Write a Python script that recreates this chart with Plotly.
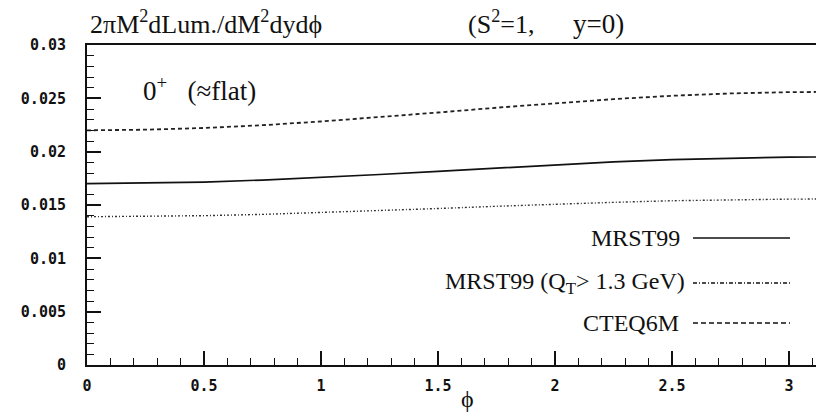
import plotly.graph_objects as go

phi = [0.0, 0.25, 0.5, 0.75, 1.0, 1.25, 1.5, 1.75, 2.0, 2.25, 2.5, 2.75, 3.0, 3.1416]
mrst99 = [0.0170, 0.01704, 0.01715, 0.01734, 0.01758, 0.01786, 0.01816, 0.01847,
          0.01877, 0.01904, 0.01925, 0.01940, 0.01949, 0.01950]
mrst99_qt = [0.0139, 0.01393, 0.01400, 0.01412, 0.01428, 0.01447, 0.01467, 0.01488,
             0.01508, 0.01525, 0.01540, 0.01550, 0.01555, 0.01556]
cteq6m = [0.0220, 0.02206, 0.02222, 0.02248, 0.02283, 0.02323, 0.02367, 0.02412,
          0.02455, 0.02493, 0.02524, 0.02546, 0.02558, 0.02560]
legend_labels = ["MRST99", "MRST99 (Q<sub>T</sub>> 1.3 GeV)", "CTEQ6M"]
x_ticks = [0, 0.5, 1, 1.5, 2, 2.5, 3]
x_ticktext = ["0", "0.5", "1", "1.5", "2", "2.5", "3"]
y_ticks = [0, 0.005, 0.01, 0.015, 0.02, 0.025, 0.03]
y_ticktext = ["0", "0.005", "0.01", "0.015", "0.02", "0.025", "0.03"]

SERIF = "Liberation Serif"
TICKFONT = dict(family="DejaVu Sans Mono", size=15, color="#111", weight="bold")

W, H = 816, 412
L, R, T, B = 87, 0, 45, 47
PW, PH = W - L - R, H - T - B


def px(x):
    return (x - L) / PW


def py(y):
    return (H - B - y) / PH


fig = go.Figure()
fig.add_trace(go.Scatter(x=phi, y=mrst99, mode="lines",
                         line=dict(color="#111", width=1.7, dash="solid")))
fig.add_trace(go.Scatter(x=phi, y=mrst99_qt, mode="lines",
                         line=dict(color="#333", width=1.4, dash="2px,2px,1px,2px")))
fig.add_trace(go.Scatter(x=phi, y=cteq6m, mode="lines",
                         line=dict(color="#222", width=1.8, dash="4px,3px")))

# legend (text + sample line)
leg_y = [238, 283, 323]
leg_right = [682, 687, 681]
leg_dash = ["solid", "4px,2px,1px,2px", "5px,3px"]
for lab, yy, xr, d in zip(legend_labels, leg_y, leg_right, leg_dash):
    fig.add_annotation(x=px(xr), y=py(yy), xref="paper", yref="paper",
                       xanchor="right", yanchor="middle", showarrow=False,
                       text=lab, font=dict(family=SERIF, size=24, color="#111"))
    fig.add_shape(type="line", xref="paper", yref="paper",
                  x0=px(693), x1=px(790), y0=py(yy), y1=py(yy),
                  line=dict(color="#111", width=1.5, dash=d))

# titles
fig.add_annotation(x=px(88), y=py(41), xref="paper", yref="paper",
                   xanchor="left", yanchor="bottom", showarrow=False,
                   text="2πM<sup>2</sup>dLum./dM<sup>2</sup>dydϕ",
                   font=dict(family=SERIF, size=26, color="#111"))
fig.add_annotation(x=px(466), y=py(41), xref="paper", yref="paper",
                   xanchor="left", yanchor="bottom", showarrow=False,
                   text="(S<sup>2</sup>=1,",
                   font=dict(family=SERIF, size=26, color="#111"))
fig.add_annotation(x=px(626), y=py(41), xref="paper", yref="paper",
                   xanchor="right", yanchor="bottom", showarrow=False,
                   text="y=0)",
                   font=dict(family=SERIF, size=27, color="#111"))
fig.add_annotation(x=px(141), y=py(89), xref="paper", yref="paper",
                   xanchor="left", yanchor="middle", showarrow=False,
                   text="0<sup>+</sup>   (≈flat)",
                   font=dict(family=SERIF, size=27, color="#111"))
fig.add_annotation(x=px(468), y=py(399), xref="paper", yref="paper",
                   xanchor="center", yanchor="middle", showarrow=False,
                   text="ϕ", font=dict(family=SERIF, size=24, color="#111"))

fig.update_layout(
    width=W, height=H, showlegend=False,
    margin=dict(l=L, r=R, t=T, b=B),
    paper_bgcolor="white", plot_bgcolor="white",
    xaxis=dict(range=[0, 3.115], tickvals=x_ticks, ticktext=x_ticktext,
               ticks="inside", ticklen=14, tickwidth=1.5, tickcolor="#111",
               showline=True, linecolor="#111", linewidth=2, mirror=True,
               showgrid=False, zeroline=False, ticklabelstandoff=6,
               minor=dict(dtick=0.1, ticks="inside", ticklen=7, tickwidth=1.3,
                          tickcolor="#111", showgrid=False),
               tickfont=TICKFONT),
    yaxis=dict(range=[0, 0.03], tickvals=y_ticks, ticktext=y_ticktext,
               ticks="inside", ticklen=14, tickwidth=1.5, tickcolor="#111",
               showline=True, linecolor="#111", linewidth=2, mirror=False,
               showgrid=False, zeroline=False, ticklabelstandoff=16,
               minor=dict(dtick=0.001, ticks="inside", ticklen=7, tickwidth=1.3,
                          tickcolor="#111", showgrid=False),
               tickfont=TICKFONT),
)

fig.write_html("out.html")
